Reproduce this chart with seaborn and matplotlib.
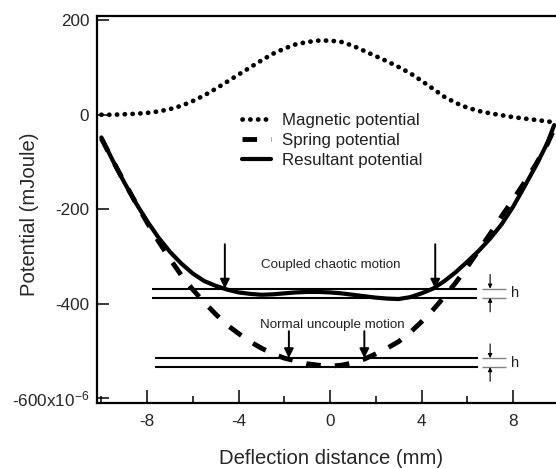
import numpy as np
import pandas as pd
import matplotlib
matplotlib.use("Agg")
import matplotlib.pyplot as plt
import seaborn as sns
from matplotlib.ticker import FixedLocator, FixedFormatter

# ---------------- data ----------------
x_mag = [-10, -9.5, -9, -8.5, -8, -7.5, -7, -6.5, -6, -5.5, -5, -4.5, -4, -3.5, -3,
         -2.5, -2, -1.5, -1, -0.5, 0, 0.5, 1, 1.5, 2, 2.5, 3, 3.5, 4, 4.5, 5,
         5.5, 6, 6.5, 7, 7.5, 8, 8.5, 9, 9.5, 9.8]
magnetic = [0, 0, 1, 2, 4, 7, 12, 19, 29, 41, 55, 70, 85, 100, 115,
            129, 140, 149, 154, 157, 157, 154, 146, 135, 124, 113, 101, 88, 72, 55, 38,
            25, 15, 8, 3, -1, -5, -8, -11, -14, -16]

x_spr = x_mag
spring = [-50, -97, -142, -186, -228, -268, -305, -340, -370, -397, -422, -445, -463, -480, -494,
          -506, -515, -521, -527, -530, -532, -530, -525, -517, -506, -494, -480, -461, -438, -413, -385,
          -355, -322, -287, -252, -215, -180, -143, -105, -62, -30]

x_res = x_mag
resultant = [-48, -97, -143, -186, -225, -260, -290, -315, -336, -352, -362, -370, -376, -379, -381,
             -380, -378, -376, -375, -375, -376, -378, -381, -384, -387, -389, -390, -386, -378, -368, -352,
             -333, -311, -288, -262, -232, -195, -152, -108, -60, -22]

series_names = ["Magnetic potential", "Spring potential", "Resultant potential"]

x_ticks = [-8, -4, 0, 4, 8]
x_tick_labels = ["-8", "-4", "0", "4", "8"]
x_minor = [-10, -6, -2, 2, 6]
y_ticks = [-600, -400, -200, 0, 200]
y_tick_labels = ["-600x10$^{-6}$", "-400", "-200", "0", "200"]

# annotation levels (energy bands)
band_upper = [-368, -387]
band_lower = [-515, -534]
band_upper_x = [-7.78, 6.43]
band_lower_x = [-7.65, 6.47]
coupled_arrows_x = [-4.6, 4.6]
uncoupled_arrows_x = [-1.8, 1.5]
coupled_label = "Coupled chaotic motion"
uncoupled_label = "Normal uncouple motion"

# ---------------- style ----------------
sns.set_style("ticks")
plt.rcParams["font.family"] = ["Liberation Sans", "DejaVu Sans"]
plt.rcParams["mathtext.default"] = "regular"
plt.rcParams["text.color"] = "#202020"

fig = plt.figure(figsize=(5.56, 4.68), dpi=100)
ax = fig.add_axes([97 / 556, 65 / 468, 1 - 97 / 556, (403 - 16) / 468])

df = pd.concat([
    pd.DataFrame({"x": x_mag, "y": magnetic, "series": series_names[0]}),
    pd.DataFrame({"x": x_spr, "y": spring, "series": series_names[1]}),
    pd.DataFrame({"x": x_res, "y": resultant, "series": series_names[2]}),
])

sns.lineplot(data=df[df.series == series_names[0]], x="x", y="y", ax=ax, color="black",
             lw=3.4, linestyle=(0, (0.05, 1.6)), dash_capstyle="round",
             label=series_names[0], sort=False)
sns.lineplot(data=df[df.series == series_names[1]], x="x", y="y", ax=ax, color="black",
             lw=3.5, linestyle=(0, (3.0, 2.9)), label=series_names[1], sort=False)
sns.lineplot(data=df[df.series == series_names[2]], x="x", y="y", ax=ax, color="black",
             lw=3.0, label=series_names[2], sort=False)

ax.set_xlim(-10.19, 9.88)
ax.set_ylim(-610, 209)

# band lines
for yv in band_upper:
    ax.hlines(yv, band_upper_x[0], band_upper_x[1], color="black", lw=1.5)
for yv in band_lower:
    ax.hlines(yv, band_lower_x[0], band_lower_x[1], color="black", lw=1.5)

# h markers
for band in (band_upper, band_lower):
    for yv in band:
        ax.hlines(yv, 6.65, 7.7, color="#808080", lw=1.0)
    ax.annotate("", xy=(7.0, band[0]), xytext=(7.0, band[0] + 30),
                arrowprops=dict(arrowstyle="-|>", color="black", lw=0.8, mutation_scale=6,
                                shrinkA=0, shrinkB=0))
    ax.annotate("", xy=(7.0, band[1]), xytext=(7.0, band[1] - 30),
                arrowprops=dict(arrowstyle="-|>", color="black", lw=0.8, mutation_scale=6,
                                shrinkA=0, shrinkB=0))
    ax.text(8.1, (band[0] + band[1]) / 2, "h", fontsize=10.5, ha="center", va="center")

# big arrows
for xa in coupled_arrows_x:
    ax.annotate("", xy=(xa, band_upper[0]), xytext=(xa, -274),
                arrowprops=dict(arrowstyle="-|>", color="black", lw=1.4, mutation_scale=14,
                                shrinkA=0, shrinkB=0))
for xa in uncoupled_arrows_x:
    ax.annotate("", xy=(xa, band_lower[0]), xytext=(xa, -458),
                arrowprops=dict(arrowstyle="-|>", color="black", lw=1.4, mutation_scale=14,
                                shrinkA=0, shrinkB=0))
ax.text(0.05, -317, coupled_label, fontsize=9.6, ha="center", va="center")
ax.text(0.1, -445, uncoupled_label, fontsize=9.6, ha="center", va="center")

# axes styling
ax.xaxis.set_major_locator(FixedLocator(x_ticks))
ax.xaxis.set_major_formatter(FixedFormatter(x_tick_labels))
ax.xaxis.set_minor_locator(FixedLocator(x_minor))
ax.yaxis.set_major_locator(FixedLocator(y_ticks))
ax.yaxis.set_major_formatter(FixedFormatter(y_tick_labels))
ax.tick_params(axis="both", which="major", direction="in", length=9.5, width=1.1,
               labelsize=12.3, color="black")
ax.tick_params(axis="x", which="major", pad=8)
ax.tick_params(axis="y", which="major", length=8.5, pad=5.5)
ax.tick_params(axis="x", which="minor", direction="in", length=5, width=1.1, color="black")
for s in ("left", "bottom", "top"):
    ax.spines[s].set_linewidth(1.6)
    ax.spines[s].set_color("black")
ax.spines["right"].set_visible(False)

ax.set_xlabel("Deflection distance (mm)", fontsize=14.6)
ax.set_ylabel("Potential (mJoule)", fontsize=14.6)
ax.xaxis.set_label_coords(0.509, -0.12)
ax.yaxis.set_label_coords(-0.126, 0.488)

leg = ax.legend(loc="upper left", bbox_to_anchor=(0.316, 0.749), frameon=False,
                fontsize=12.2, handlelength=1.7, handletextpad=0.65, labelspacing=0.3,
                borderpad=0, borderaxespad=0)

fig.savefig("out.png", dpi=100)
